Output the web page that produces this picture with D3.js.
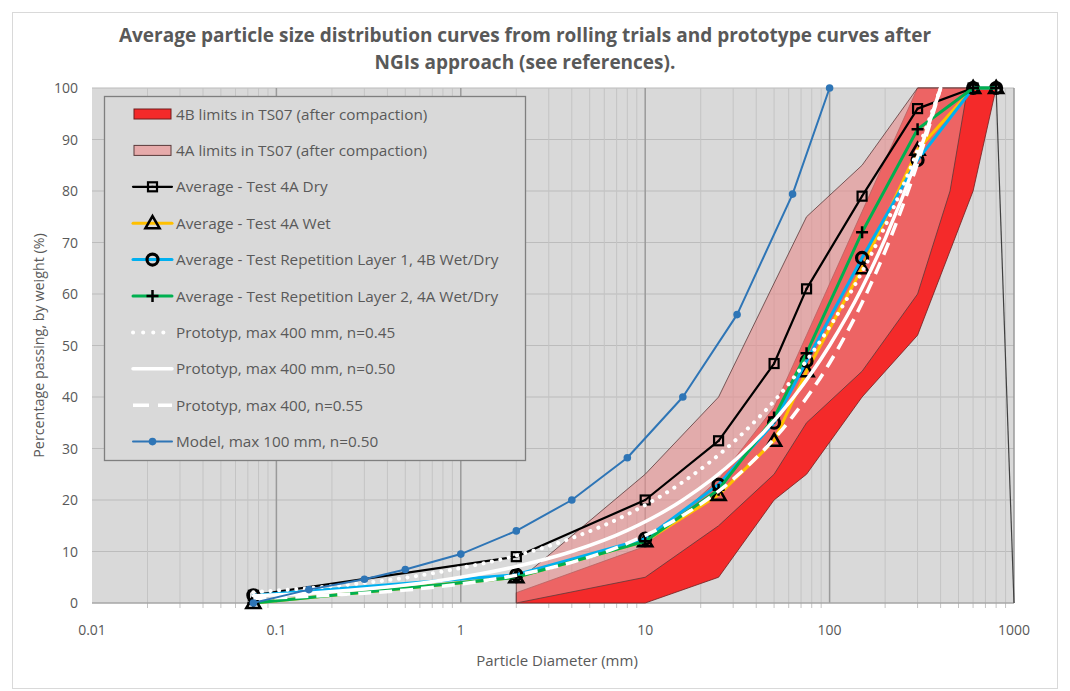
<!DOCTYPE html>
<html>
<head>
<meta charset="utf-8">
<script src="https://cdn.jsdelivr.net/npm/d3@7"></script>
<style>
  body { margin: 0; background: #fff; }
  text { font-family: "Open Sans", sans-serif; fill: #595959; }
</style>
</head>
<body>
<div id="wrapper"></div>
<script>
// limit envelopes (sieve mm, % passing)
const limit4BUpper = [[2, 2], [10, 11], [25, 24], [50, 38], [75, 52], [150, 76], [300, 100]];
const limit4BLower = [[2, 0], [10, 0], [25, 5], [50, 20], [75, 25], [150, 40], [300, 52], [600, 80], [800, 100]];
const limit4AUpper = [[2, 4], [10, 25], [25, 40], [75, 75], [150, 85], [300, 100]];
const limit4ALower = [[2, 0], [10, 5], [25, 15], [50, 25], [75, 35], [150, 45], [300, 60], [450, 80], [560, 100]];
const closingLine = [[800, 100], [1000, 0]];

// test averages
const sieveDry = [0.075, 2, 10, 25, 50, 75, 150, 300, 600];
const passDry = [1.5, 9, 20, 31.5, 46.5, 61, 79, 96, 100];
const sieveTest = [0.075, 2, 10, 25, 50, 75, 150, 300, 600, 800];
const passWet = [0, 5, 12, 21, 31.5, 45, 65, 88, 100, 100];
const passRep1 = [1.5, 5.5, 12.5, 23, 35, 47, 67, 86, 100, 100];
const passRep2 = [0, 5, 12, 22, 36, 48.5, 72, 92, 100, 100];

// prototype curves
const sieveProto = [0.075, 0.15, 0.3, 0.5, 1, 2, 4, 8, 16, 31.5, 63, 100, 150, 200, 300, 400];
const passProto045 = [2.1, 2.9, 3.9, 4.9, 6.8, 9.2, 12.6, 17.2, 23.5, 31.9, 43.5, 53.6, 64.3, 73.2, 87.9, 100];
const passProto050 = [1.4, 1.9, 2.7, 3.5, 5.0, 7.1, 10.0, 14.1, 20.0, 28.1, 39.7, 50.0, 61.2, 70.7, 86.6, 100];
const passProto055 = [0.9, 1.3, 1.9, 2.5, 3.7, 5.4, 7.9, 11.6, 17.0, 24.7, 36.2, 46.6, 58.3, 68.3, 85.4, 100];

// model
const sieveModel = [0.075, 0.15, 0.3, 0.5, 1, 2, 4, 8, 16, 31.5, 63, 100];
const passModel = [0, 2.6, 4.6, 6.5, 9.5, 14, 20, 28.2, 40, 56, 79.4, 100];

const xTickLabels = ["0.01", "0.1", "1", "10", "100", "1000"];
const yTicks = [0, 10, 20, 30, 40, 50, 60, 70, 80, 90, 100];

const legendLabels = [
    "4B limits in TS07 (after compaction)",
    "4A limits in TS07 (after compaction)",
    "Average - Test 4A Dry",
    "Average - Test 4A Wet",
    "Average - Test Repetition Layer 1, 4B Wet/Dry",
    "Average - Test Repetition Layer 2, 4A Wet/Dry",
    "Prototyp, max 400 mm, n=0.45",
    "Prototyp, max 400 mm, n=0.50",
    "Prototyp, max 400, n=0.55",
    "Model, max 100 mm, n=0.50"
];

const zip = (xs, ys) => xs.map((d, i) => [d, ys[i]]);

const width = 1070;
const height = 691;
let dimensions = {
    width: width,
    height: height,
    margin: { top: 88, right: 56, bottom: 88, left: 92 },
};
dimensions.boundedWidth = dimensions.width - dimensions.margin.left - dimensions.margin.right;
dimensions.boundedHeight = dimensions.height - dimensions.margin.top - dimensions.margin.bottom;

const svg = d3.select("#wrapper")
    .append("svg")
    .attr("width", dimensions.width)
    .attr("height", dimensions.height);

svg.append("rect")
    .attr("x", 12.5).attr("y", 12.5)
    .attr("width", 1045).attr("height", 676)
    .attr("fill", "#fff")
    .attr("stroke", "#d9d9d9");

const xScaler = d3.scaleLog()
    .domain([0.01, 1000])
    .range([dimensions.margin.left, dimensions.margin.left + dimensions.boundedWidth]);

const yScaler = d3.scaleLinear()
    .domain([0, 100])
    .range([dimensions.margin.top + dimensions.boundedHeight, dimensions.margin.top]);

// plot area
svg.append("rect")
    .attr("x", xScaler(0.01))
    .attr("y", yScaler(100))
    .attr("width", xScaler(1000) - xScaler(0.01))
    .attr("height", yScaler(0) - yScaler(100))
    .attr("fill", "#d9d9d9");

const allTicks = xScaler.ticks();
const isMajor = d => Math.abs(Math.log10(d) - Math.round(Math.log10(d))) < 1e-9;

svg.append("g")
    .selectAll("line")
    .data(yTicks.filter(d => d > 0))
    .enter()
    .append("line")
    .attr("x1", xScaler(0.01)).attr("x2", xScaler(1000))
    .attr("y1", d => yScaler(d)).attr("y2", d => yScaler(d))
    .attr("stroke", "#bcbcbc")
    .attr("stroke-width", 1.2);

svg.append("g")
    .selectAll("line")
    .data(allTicks.filter(d => !isMajor(d)))
    .enter()
    .append("line")
    .attr("x1", d => xScaler(d)).attr("x2", d => xScaler(d))
    .attr("y1", yScaler(100)).attr("y2", yScaler(0) + 5)
    .attr("stroke", "#c4c4c4")
    .attr("stroke-width", 1);

svg.append("g")
    .selectAll("line")
    .data(allTicks.filter(d => isMajor(d) && d > 0.01))
    .enter()
    .append("line")
    .attr("x1", d => xScaler(d)).attr("x2", d => xScaler(d))
    .attr("y1", yScaler(100)).attr("y2", yScaler(0))
    .attr("stroke", "#9a9a9a")
    .attr("stroke-width", 1.5);

// x axis line at 0
svg.append("line")
    .attr("x1", xScaler(0.01)).attr("x2", xScaler(1000))
    .attr("y1", yScaler(0)).attr("y2", yScaler(0))
    .attr("stroke", "#a6a6a6")
    .attr("stroke-width", 1.5);

// limit areas
const lineGen = d3.line()
    .x(d => xScaler(d[0]))
    .y(d => yScaler(d[1]));

const polygon = (upper, lower) => lineGen(upper.concat(lower.slice().reverse())) + "Z";

svg.append("path")
    .attr("d", polygon(limit4BUpper, limit4BLower))
    .attr("fill", "#f42a2a")
    .attr("stroke", "#6e1f1f")
    .attr("stroke-width", 0.8);

svg.append("path")
    .attr("d", polygon(limit4AUpper, limit4ALower))
    .attr("fill", "rgb(232,140,140)")
    .attr("fill-opacity", 0.6)
    .attr("stroke", "#5a3a3a")
    .attr("stroke-width", 0.8);

svg.append("path")
    .attr("d", lineGen(closingLine))
    .attr("fill", "none")
    .attr("stroke", "#404040")
    .attr("stroke-width", 1.2);

// markers
function drawMarker(g, kind, cx, cy) {
    if (kind == "square") {
        g.append("rect")
            .attr("x", cx - 4.5).attr("y", cy - 4.5)
            .attr("width", 9).attr("height", 9)
            .attr("fill", "none")
            .attr("stroke", "#000")
            .attr("stroke-width", 2.2);
        g.append("rect")
            .attr("x", cx - 1).attr("y", cy - 1)
            .attr("width", 2).attr("height", 2)
            .attr("fill", "#000");
    } else if (kind == "triangle") {
        g.append("path")
            .attr("d", `M${cx},${cy - 7}L${cx + 7},${cy + 5}L${cx - 7},${cy + 5}Z`)
            .attr("fill", "none")
            .attr("stroke", "#000")
            .attr("stroke-width", 2.6);
    } else if (kind == "circle") {
        g.append("circle")
            .attr("cx", cx).attr("cy", cy).attr("r", 5.5)
            .attr("fill", "none")
            .attr("stroke", "#000")
            .attr("stroke-width", 3.2);
    } else if (kind == "plus") {
        g.append("path")
            .attr("d", `M${cx - 6},${cy}H${cx + 6}M${cx},${cy - 6}V${cy + 6}`)
            .attr("stroke", "#000")
            .attr("stroke-width", 2.5);
    } else if (kind == "dot") {
        g.append("circle")
            .attr("cx", cx).attr("cy", cy).attr("r", 3.8)
            .attr("fill", "#2e75b6");
    }
}

const series = [
    { data: zip(sieveDry, passDry), color: "#000000", width: 2.2, marker: "square" },
    { data: zip(sieveTest, passWet), color: "#ffc000", width: 3, marker: "triangle" },
    { data: zip(sieveTest, passRep1), color: "#00b0f0", width: 3, marker: "circle" },
    { data: zip(sieveTest, passRep2), color: "#00b050", width: 3, marker: "plus" },
    { data: zip(sieveProto, passProto045), color: "#ffffff", width: 4, dash: "0.1 8.5", legendDash: "0.1 10", smooth: true },
    { data: zip(sieveProto, passProto050), color: "#ffffff", width: 3.5, smooth: true },
    { data: zip(sieveProto, passProto055), color: "#ffffff", width: 3.5, dash: "13 8", legendDash: "16 9", smooth: true, cap: "butt" },
    { data: zip(sieveModel, passModel), color: "#2e75b6", width: 2, marker: "dot" },
];

const smoothGen = d3.line()
    .x(d => xScaler(d[0]))
    .y(d => yScaler(d[1]))
    .curve(d3.curveMonotoneX);

series.forEach(s => {
    const g = svg.append("g");
    g.append("path")
        .attr("d", s.smooth ? smoothGen(s.data) : lineGen(s.data))
        .attr("fill", "none")
        .attr("stroke", s.color)
        .attr("stroke-width", s.width)
        .attr("stroke-linejoin", "round")
        .attr("stroke-linecap", s.cap || "round")
        .attr("stroke-dasharray", s.dash || null);
    if (s.marker) {
        s.data.forEach(d => drawMarker(g, s.marker, xScaler(d[0]), yScaler(d[1])));
    }
});

// axis labels
svg.append("g")
    .selectAll("text")
    .data(yTicks)
    .enter()
    .append("text")
    .attr("x", 78)
    .attr("y", d => yScaler(d) + 5)
    .attr("text-anchor", "end")
    .attr("font-size", "14px")
    .text(d => d);

svg.append("g")
    .selectAll("text")
    .data(xTickLabels)
    .enter()
    .append("text")
    .attr("x", d => xScaler(+d))
    .attr("y", 635)
    .attr("text-anchor", "middle")
    .attr("font-size", "14px")
    .text(d => d);

svg.append("text")
    .attr("x", 557)
    .attr("y", 666)
    .attr("text-anchor", "middle")
    .attr("font-size", "15px")
    .text("Particle Diameter (mm)");

svg.append("text")
    .attr("transform", `translate(44, ${yScaler(50)}) rotate(-90)`)
    .attr("text-anchor", "middle")
    .attr("font-size", "14.3px")
    .text("Percentage passing, by weight (%)");

// title
const titleLines = ["Average particle size distribution curves from rolling trials and prototype curves after", "NGIs approach (see references)."];
svg.append("g")
    .selectAll("text")
    .data(titleLines)
    .enter()
    .append("text")
    .attr("x", 525)
    .attr("y", (d, i) => 42 + i * 27)
    .attr("text-anchor", "middle")
    .attr("font-family", "Lato, sans-serif")
    .attr("font-weight", "bold")
    .attr("font-size", "19px")
    .text(d => d);

// legend
const legend = svg.append("g");
legend.append("rect")
    .attr("x", 104.5).attr("y", 96.5)
    .attr("width", 421).attr("height", 364)
    .attr("fill", "#d9d9d9")
    .attr("stroke", "#7f7f7f")
    .attr("stroke-width", 1.3);

const legendSwatch = [
    { area: true, fill: "#f42a2a", stroke: "#6e1f1f" },
    { area: true, fill: "#e6aaaa", stroke: "#5a3a3a" },
].concat(series);

legendLabels.forEach((label, i) => {
    const cy = 114 + i * 36.4;
    const sw = legendSwatch[i];
    const g = legend.append("g");
    if (sw.area) {
        g.append("rect")
            .attr("x", 134).attr("y", cy - 5)
            .attr("width", 37).attr("height", 10)
            .attr("fill", sw.fill)
            .attr("stroke", sw.stroke)
            .attr("stroke-width", 1);
    } else {
        g.append("line")
            .attr("x1", 133).attr("x2", 172)
            .attr("y1", cy).attr("y2", cy)
            .attr("stroke", sw.color)
            .attr("stroke-width", sw.width)
            .attr("stroke-linecap", sw.cap || "round")
            .attr("stroke-dasharray", sw.legendDash || null);
        if (sw.marker) drawMarker(g, sw.marker, 152.5, cy);
    }
    g.append("text")
        .attr("x", 176)
        .attr("y", cy + 5.5)
        .attr("font-size", "15.3px")
        .text(label);
});
</script>
</body>
</html>
